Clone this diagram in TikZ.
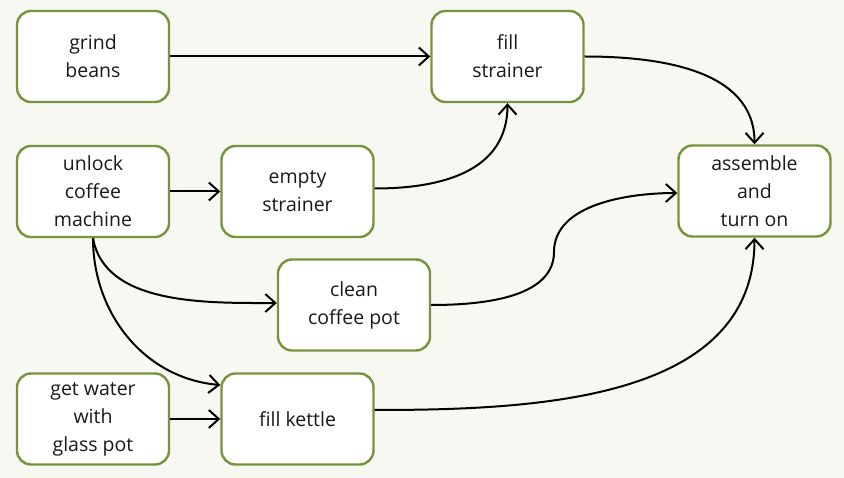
\documentclass[tikz,border=0pt]{standalone}
\usepackage{fontspec}
\setmainfont{Open Sans}
\usetikzlibrary{arrows.meta}
\definecolor{bg}{HTML}{F8F8F2}
\definecolor{olive}{HTML}{77933C}
\begin{document}
\begin{tikzpicture}[x=1pt,y=-1pt,
  box/.style={draw=olive,line width=2.4pt,fill=white,rounded corners=14pt,
    minimum width=152pt,minimum height=91pt,align=center,
    font=\fontsize{19.5}{28}\selectfont,text=black!90},
  arr/.style={line width=2pt,-{Straight Barb[length=10pt,width=18pt,line width=2pt]}}]
\fill[bg] (0,0) rectangle (844,478);
\useasboundingbox (0,0) rectangle (844,478);
\node[box] (gb) at (93,56.5) {grind\\beans};
\node[box] (fs) at (507.5,56.5) {fill\\strainer};
\node[box] (uc) at (93,191.5) {unlock\\coffee\\machine};
\node[box] (es) at (297.5,191.5) {empty\\strainer};
\node[box] (as) at (754.5,191) {assemble\\and\\turn on};
\node[box] (cp) at (354,305) {clean\\coffee pot};
\node[box] (gw) at (93,419) {get water\\with\\glass pot};
\node[box] (fk) at (297.5,419) {fill kettle};
\coordinate (mid) at (554,252);
\draw[arr] (gb.east) -- (fs.west);
\draw[arr] (uc.east) -- (es.west);
\draw[arr] (gw.east) -- (fk.west);
\draw[arr] ([yshift=3pt]es.east) to[out=0,in=-90,looseness=1.1] (fs.south);
\draw[arr] (fs.east) to[out=0,in=90] (as.north);
\draw[arr] (cp.east) to[out=0,in=-90,looseness=0.9] (mid) to[out=90,in=180,looseness=0.9] ([yshift=-2pt]as.west);
\draw[arr] ([yshift=9pt]fk.east) to[out=0,in=-90] (as.south);
\draw[arr] (uc.south) to[out=-80,in=180,looseness=0.9] ([yshift=2pt]cp.west);
\draw[arr] (uc.south) to[out=-90,in=175,looseness=1] ([yshift=34pt]fk.west);
\end{tikzpicture}
\end{document}
